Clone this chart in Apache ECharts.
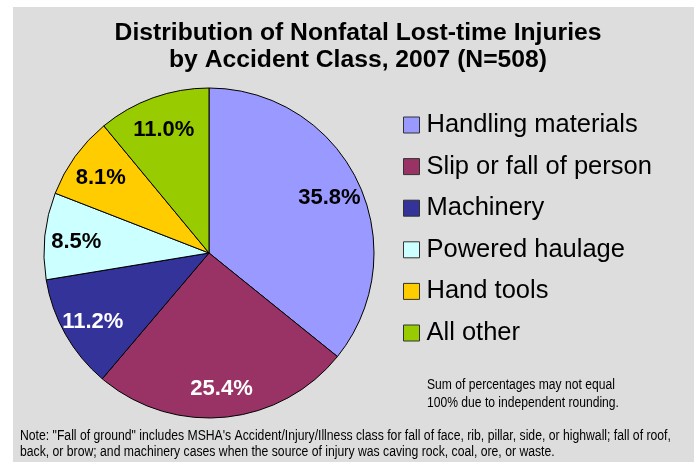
<!DOCTYPE html>
<html>
<head>
<meta charset="utf-8">
<script src="https://cdn.jsdelivr.net/npm/echarts@6/dist/echarts.min.js"></script>
<style>
html,body{margin:0;padding:0;background:#fff;}
#chart{width:699px;height:467px;}
</style>
</head>
<body>
<div id="chart"></div>
<script>
const categories = ['Handling materials','Slip or fall of person','Machinery','Powered haulage','Hand tools','All other'];
const percents = [35.8, 25.4, 11.2, 8.5, 8.1, 11.0];
const colors = ['#9999FF','#993366','#333399','#CCFFFF','#FFCC00','#99CC00'];
const labelColors = ['#000','#fff','#fff','#000','#000','#000'];
const titleLines = ['Distribution of Nonfatal Lost-time Injuries','by Accident Class, 2007 (N=508)'];
const roundingNote = ['Sum of percentages may not equal','100% due to independent rounding.'];
const footNote = ['Note: "Fall of ground" includes MSHA\'s Accident/Injury/Illness class for fall of face, rib, pillar, side, or highwall; fall of roof,','back, or brow; and machinery cases when the source of injury was caving rock, coal, ore, or waste.'];

const FONT = '"Liberation Sans", Arial, sans-serif';
const cx = 209, cy = 253, R = 165;

const chart = echarts.init(document.getElementById('chart'), null, {renderer:'canvas'});
const mainData = categories.map((c,i)=>({name:c, value:percents[i], itemStyle:{color:colors[i]}}));
const labelData = categories.map((c,i)=>({name:c, value:percents[i], label:{color:labelColors[i]}}));

chart.setOption({
  backgroundColor:'#ffffff',
  animation:false,
  graphic:[
    {type:'rect', z:-10, shape:{x:13,y:7,width:681,height:455}, style:{fill:'#dddddd'}, silent:true},
    {type:'text', x:358, y:20, style:{text:titleLines.join('\n'), font:'bold 24.7px '+FONT, fill:'#000', align:'center', verticalAlign:'top', lineHeight:27}},
    {type:'text', x:427, y:376, scaleX:0.865, style:{text:roundingNote.join('\n'), font:'14px '+FONT, fill:'#000', align:'left', verticalAlign:'top', lineHeight:18}},
    {type:'text', x:20, y:428, scaleX:0.872, style:{text:footNote.join('\n'), font:'14px '+FONT, fill:'#000', align:'left', verticalAlign:'top', lineHeight:16}}
  ],
  legend:{
    orient:'vertical', left:398, top:107, data:categories,
    itemWidth:16, itemHeight:16, itemGap:15.6,
    icon:'rect',
    itemStyle:{borderColor:'#333', borderWidth:1},
    textStyle:{fontFamily:FONT, fontSize:25.5, lineHeight:25, color:'#000', padding:[0,0,0,2]}
  },
  series:[
    {
      type:'pie', center:[cx,cy], radius:R, startAngle:90, clockwise:true,
      data:mainData, label:{show:false}, labelLine:{show:false},
      itemStyle:{borderColor:'#000', borderWidth:1},
      emphasis:{disabled:true}
    },
    {
      type:'pie', center:[cx,cy], radius:[96,R], startAngle:90, clockwise:true, silent:true,
      data:labelData,
      itemStyle:{color:'rgba(0,0,0,0)', borderWidth:0},
      label:{show:true, position:'inside', formatter:p=>p.value.toFixed(1)+'%', fontFamily:FONT, fontWeight:'bold', fontSize:22, offset:[0,3]},
      labelLine:{show:false},
      emphasis:{disabled:true}
    }
  ]
});
</script>
</body>
</html>
